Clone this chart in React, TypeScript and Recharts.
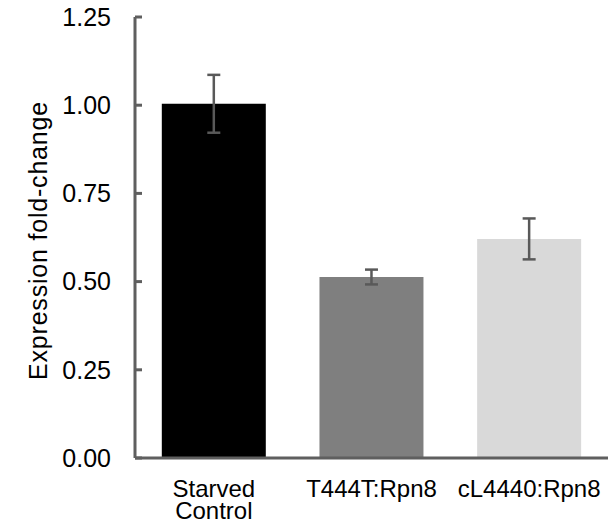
import React from "react"
import { BarChart, Bar, Cell, XAxis, YAxis, ErrorBar, Label } from "recharts"

const categories = ["Starved\nControl", "T444T:Rpn8", "cL4440:Rpn8"]
const foldChange = [1.004, 0.513, 0.621]
const foldError = [0.082, 0.021, 0.058]
const barColors = ["#000000", "#7f7f7f", "#d9d9d9"]
const yTicks = [0, 0.25, 0.5, 0.75, 1, 1.25]

const data = categories.map((name, i) => ({
    name,
    value: foldChange[i],
    err: foldError[i],
}))

const FONT = "'Liberation Sans', Arial, sans-serif"
const AXIS = "#5f5f5f"

const XTick = ({ x, y, payload }: any) => {
    const lines = String(payload.value).split("\n")
    return (
        <text x={x} y={y} textAnchor="middle" fontSize={24} fill="#000" fontFamily={FONT}>
            {lines.map((line, i) => (
                <tspan key={i} x={x} dy={i === 0 ? "0.71em" : 22}>
                    {line}
                </tspan>
            ))}
        </text>
    )
}

export default function App() {
    return (
        <div style={{ position: "absolute", left: 0, top: 0 }}>
            <BarChart
                width={613}
                height={526}
                data={data}
                margin={{ top: 17, right: 5, bottom: 0, left: 0 }}
                barCategoryGap="17%"
            >
                <XAxis
                    dataKey="name"
                    height={68}
                    interval={0}
                    tickLine={false}
                    tickSize={0}
                    tickMargin={22}
                    tick={<XTick />}
                    axisLine={{ stroke: AXIS, strokeWidth: 3 }}
                />
                <YAxis
                    width={135}
                    domain={[0, 1.25]}
                    ticks={yTicks}
                    interval={0}
                    tickFormatter={(v: number) => v.toFixed(2)}
                    tickSize={-7}
                    tickMargin={31}
                    tick={{ fontSize: 25, fill: "#000", fontFamily: FONT }}
                    tickLine={{ stroke: AXIS, strokeWidth: 3 }}
                    axisLine={{ stroke: AXIS, strokeWidth: 3 }}
                >
                    <Label
                        content={({ viewBox }: any) => {
                            const cx = 38
                            const cy = viewBox.y + viewBox.height / 2 + 3
                            return (
                                <text
                                    x={cx}
                                    y={cy}
                                    transform={`rotate(-90, ${cx}, ${cy})`}
                                    textAnchor="middle"
                                    dominantBaseline="central"
                                    fontSize={25}
                                    letterSpacing={0.8}
                                    fill="#000"
                                    fontFamily={FONT}
                                >
                                    Expression fold-change
                                </text>
                            )
                        }}
                    />
                </YAxis>
                <Bar dataKey="value" isAnimationActive={false}>
                    {data.map((_, idx) => (
                        <Cell key={`cell-${idx}`} fill={barColors[idx]} />
                    ))}
                    <ErrorBar
                        dataKey="err"
                        width={6.5}
                        stroke="#595959"
                        strokeWidth={2.5}
                        isAnimationActive={false}
                    />
                </Bar>
            </BarChart>
        </div>
    )
}
